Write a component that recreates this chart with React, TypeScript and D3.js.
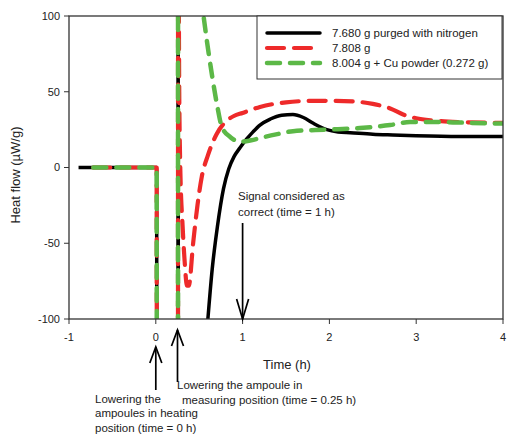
import React from 'react';
import * as d3 from 'd3';

// time (h), heat flow (µW/g)
const purgedSeries: [number, number][] = [
  [-0.89, 0], [-0.5, 0], [0.01, 0], [0.012, -200], [0.255, -200], [0.257, 200], [0.26, -200],
  [0.47, -200], [0.6, -100], [0.65, -67], [0.71, -39], [0.78, -14], [0.84, -1], [0.9, 7],
  [0.97, 13], [1.05, 19], [1.12, 23.5], [1.2, 28], [1.32, 32], [1.45, 34.5], [1.58, 35],
  [1.7, 33], [1.82, 29], [1.97, 25], [2.1, 23.5], [2.24, 23], [2.5, 22], [2.73, 21.5],
  [3, 21], [3.5, 20.5], [4, 20.5],
];

const plainSeries: [number, number][] = [
  [-0.72, 0], [-0.3, 0], [0.01, 0], [0.012, -200], [0.255, -200], [0.257, 200], [0.27, 50],
  [0.28, 5], [0.31, -40], [0.33, -60], [0.36, -78], [0.38, -78], [0.43, -50], [0.48, -25],
  [0.53, -6], [0.6, 8], [0.7, 22], [0.8, 30], [0.9, 34], [1.0, 36], [1.2, 40], [1.5, 43],
  [1.8, 44], [2.0, 44], [2.3, 43.5], [2.5, 42], [2.7, 39], [2.85, 35], [3.0, 32.5],
  [3.2, 31], [3.5, 30], [4, 29.5],
];

const copperSeries: [number, number][] = [
  [-0.72, 0], [-0.3, 0], [0.01, 0], [0.012, -200], [0.255, -200], [0.257, 200], [0.45, 140],
  [0.55, 100], [0.59, 83], [0.65, 60], [0.71, 40], [0.76, 27], [0.86, 20], [0.97, 17],
  [1.1, 18], [1.24, 20], [1.4, 22], [1.58, 24], [1.97, 25], [2.35, 26], [2.7, 28],
  [2.93, 30], [3.3, 30], [3.6, 29.5], [4, 29],
];

const seriesLabels = ['7.680 g purged with nitrogen', '7.808 g', '8.004 g + Cu powder (0.272 g)'];
const xTicks = [-1, 0, 1, 2, 3, 4];
const yTicks = [-100, -50, 0, 50, 100];

const FONT = "Arial, 'Liberation Sans', sans-serif";
const AXIS = '#333';

const styles = [
  { stroke: '#000', width: 3.5, dash: undefined as string | undefined },
  { stroke: '#ee2a2a', width: 4.2, dash: '17 10' },
  { stroke: '#5cb847', width: 4.5, dash: '13 10' },
];

export default function App() {
  const x = d3.scaleLinear().domain([-1, 4]).range([69, 503]);
  const y = d3.scaleLinear().domain([-100, 100]).range([319, 16]);

  const line = d3.line<[number, number]>().x(d => x(d[0])).y(d => y(d[1])).curve(d3.curveMonotoneX);
  const allSeries = [purgedSeries, plainSeries, copperSeries];

  const arrowUp = (cx: number, tip: number, bottom: number) => (
    <g stroke="#000" strokeWidth={1.7} fill="none">
      <line x1={cx} x2={cx} y1={tip} y2={bottom} />
      <polyline points={`${cx - 6},${tip + 16} ${cx},${tip} ${cx + 6},${tip + 16}`} />
    </g>
  );

  return (
    <svg width={507} height={436} style={{ position: 'absolute', left: 0, top: 0, background: '#fff' }} fontFamily={FONT}>
      <defs>
        <clipPath id="plot">
          <rect x={69} y={16} width={434} height={303} />
        </clipPath>
      </defs>

      <g clipPath="url(#plot)">
        {allSeries.map((s, i) => (
          <path
            key={i}
            d={line(s) || ''}
            fill="none"
            stroke={styles[i].stroke}
            strokeWidth={styles[i].width}
            strokeDasharray={styles[i].dash}
            strokeLinecap={styles[i].dash ? 'round' : 'butt'}
            strokeLinejoin="round"
          />
        ))}
      </g>

      {/* frame */}
      <rect x={69} y={16} width={434} height={303} fill="none" stroke={AXIS} strokeWidth={1.3} />

      {/* y axis */}
      {yTicks.map(t => (
        <g key={t}>
          <line x1={64} x2={69} y1={y(t)} y2={y(t)} stroke={AXIS} strokeWidth={1} />
          <text x={60} y={y(t)} dy="0.35em" textAnchor="end" fontSize={11} fill="#222">{t}</text>
        </g>
      ))}
      <text transform="translate(15,175) rotate(-90)" dy="0.35em" textAnchor="middle" fontSize={13} fill="#222">
        Heat flow (µW/g)
      </text>

      {/* x axis */}
      {xTicks.map(t => (
        <g key={t}>
          <line x1={x(t)} x2={x(t)} y1={319} y2={324} stroke={AXIS} strokeWidth={1} />
          <text x={x(t)} y={337} dy="0.35em" textAnchor="middle" fontSize={11} fill="#222">{t}</text>
        </g>
      ))}
      <text x={287} y={364} dy="0.35em" textAnchor="middle" fontSize={13} fill="#222">Time (h)</text>

      {/* legend */}
      <rect x={257} y={16} width={245} height={63} fill="#fff" stroke={AXIS} strokeWidth={1} />
      {seriesLabels.map((label, i) => (
        <g key={label}>
          <line
            x1={267} x2={320} y1={33 + i * 15} y2={33 + i * 15}
            stroke={styles[i].stroke}
            strokeWidth={styles[i].width}
            strokeDasharray={styles[i].dash}
            strokeLinecap="round"
          />
          <text x={332} y={33 + i * 15} dy="0.35em" fontSize={11.5} fill="#222">{label}</text>
        </g>
      ))}

      {/* annotations */}
      <text fontSize={11.5} fill="#222">
        <tspan x={238} y={196} dy="0.35em">Signal considered as</tspan>
        <tspan x={238} y={212} dy="0.35em">correct (time = 1 h)</tspan>
      </text>
      <g stroke="#000" strokeWidth={1.7} fill="none">
        <line x1={x(1)} x2={x(1)} y1={223} y2={y(-100)} />
        <polyline points={`${x(1) - 6},${y(-100) - 20} ${x(1)},${y(-100)} ${x(1) + 6},${y(-100) - 20}`} />
      </g>

      {arrowUp(x(0), 347, 390)}
      {arrowUp(x(0.25), 330, 382)}

      <text fontSize={11.5} fill="#222">
        <tspan x={95} y={399} dy="0.35em">Lowering the</tspan>
        <tspan x={95} y={413} dy="0.35em">ampoules in heating</tspan>
        <tspan x={95} y={428} dy="0.35em">position (time = 0 h)</tspan>
      </text>
      <text fontSize={11.5} fill="#222">
        <tspan x={177} y={385} dy="0.35em">Lowering the ampoule in</tspan>
        <tspan x={182} y={400} dy="0.35em">measuring position (time = 0.25 h)</tspan>
      </text>
    </svg>
  );
}
